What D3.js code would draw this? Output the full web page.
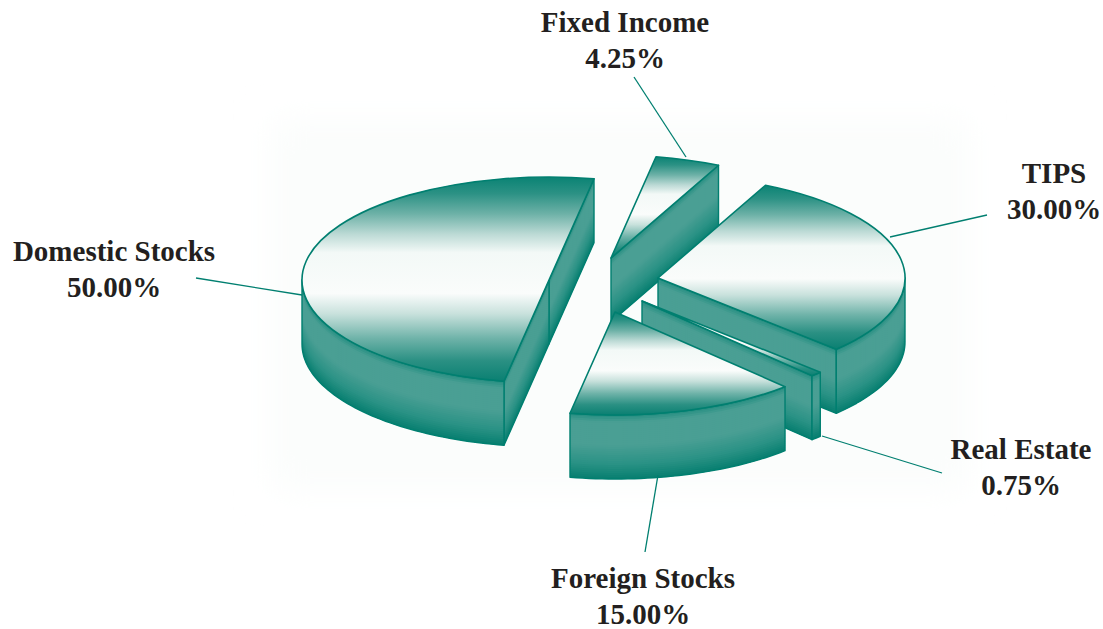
<!DOCTYPE html>
<html>
<head>
<meta charset="utf-8">
<script src="https://cdn.jsdelivr.net/npm/d3@7"></script>
<style>
  html, body { margin: 0; padding: 0; background: #fff; }
  svg { display: block; }
  text { font-family: "Liberation Serif", serif; font-weight: bold; fill: #231f20; text-anchor: middle; }
</style>
</head>
<body>
<div id="chart"></div>
<script>
const categories = ['Domestic Stocks', 'Fixed Income', 'TIPS', 'Real Estate', 'Foreign Stocks'];
const shares = [50.00, 4.25, 30.00, 0.75, 15.00];

// layout of the exploded slices and the call-outs, in page pixels
const explode = [[-54, -2], [8, -24], [55, -4], [39, 19], [12, 30]];
const labelAt = [[114, 261], [625, 32], [1054, 183], [1021, 459], [643, 588]];
const leaders = [
  [[196, 278], [302, 295]],
  [[634, 77], [686, 157]],
  [[987, 215], [890, 237]],
  [[942, 473], [822, 436]],
  [[658, 475], [645, 552]]
];
const drawOrder = [1, 2, 0, 3, 4];

const width = 1103, height = 629;
const cx = 603, cy = 282, radius = 247, tilt = 0.417, depth = 64;
const edge = '#007f70';
const rad = d => d * Math.PI / 180;

const svg = d3.select('#chart').append('svg')
    .attr('width', width)
    .attr('height', height);

const defs = svg.append('defs');
defs.append('filter').attr('id', 'wash')
    .append('feGaussianBlur').attr('stdDeviation', 18);

const topGrad = defs.append('linearGradient')
    .attr('id', 'topFace')
    .attr('x1', 0).attr('y1', 0).attr('x2', 0).attr('y2', 1);
[[0, '#0a8374'], [0.08, '#2b9184'], [0.18, '#6db1a7'], [0.28, '#bcdad5'], [0.37, '#f3f9f7'],
 [0.57, '#fafcfb'], [0.67, '#c8e1dc'], [0.79, '#6fb3a9'], [0.9, '#2a9083'], [1, '#0a8072']]
  .forEach(s => topGrad.append('stop').attr('offset', s[0]).attr('stop-color', s[1]));

const sideColor = d3.scaleLinear()
    .domain([0, 0.1, 0.45, 0.75, 1])
    .range(['#2a9184', '#4a9f94', '#4a9f94', '#2a9285', '#047d6e']);

// faint paper tone of the scan behind the pie
svg.append('rect')
    .attr('x', 270).attr('y', 120)
    .attr('width', 700).attr('height', 370)
    .attr('fill', '#fbfdfc')
    .attr('filter', 'url(#wash)');

const pie = d3.pie().sort(null)
    .startAngle(rad(190.5))
    .endAngle(rad(190.5 + 360));
const slices = pie(shares);

const arc = d3.arc().innerRadius(0).outerRadius(radius);
const outline = d3.line().curve(d3.curveLinear);

function rimPoint(i, angle) {
  return [cx + explode[i][0] + Math.sin(angle) * radius,
          cy + explode[i][1] - Math.cos(angle) * radius * tilt];
}

// extruded wall below a run of top-edge points, shaded in thin strips
function wall(g, pts) {
  const step = 2;
  const shift = (p, t) => [p[0], p[1] + t];
  d3.range(0, depth, step).forEach(t => {
    const lower = Math.min(t + step + 3, depth);
    const poly = pts.map(p => shift(p, t))
        .concat(pts.slice().reverse().map(p => shift(p, lower)));
    g.append('path')
        .attr('d', outline(poly) + 'Z')
        .attr('fill', sideColor(t / depth));
  });
  const shape = pts.concat(pts.slice().reverse().map(p => shift(p, depth)));
  g.append('path')
      .attr('d', outline(shape) + 'Z')
      .attr('fill', 'none')
      .attr('stroke', edge)
      .attr('stroke-width', 1.4)
      .attr('stroke-linejoin', 'round');
}

drawOrder.forEach(i => {
  const d = slices[i];
  const g = svg.append('g').attr('class', 'slice');
  const apex = [cx + explode[i][0], cy + explode[i][1]];

  // radial cut faces that look towards the viewer
  if (Math.sin(d.endAngle) > 0) wall(g, [apex, rimPoint(i, d.endAngle)]);
  if (Math.sin(d.startAngle) < 0) wall(g, [apex, rimPoint(i, d.startAngle)]);

  // outer rim, only the front half of the ellipse shows
  const turn = d.startAngle >= 2 * Math.PI ? 2 * Math.PI : 0;
  const lo = Math.max(d.startAngle - turn, rad(90));
  const hi = Math.min(d.endAngle - turn, rad(270));
  if (hi > lo) {
    const n = Math.max(2, Math.ceil((hi - lo) / rad(1.5)));
    wall(g, d3.range(n + 1).map(k => rimPoint(i, lo + (hi - lo) * k / n)));
  }

  g.append('path')
      .attr('transform', `translate(${apex[0]},${apex[1]}) scale(1,${tilt})`)
      .attr('d', arc(d))
      .attr('fill', 'url(#topFace)')
      .attr('stroke', edge)
      .attr('stroke-width', 1.6)
      .attr('stroke-linejoin', 'round')
      .attr('vector-effect', 'non-scaling-stroke');
});

svg.append('g').selectAll('line')
    .data(leaders)
    .join('line')
    .attr('x1', d => d[0][0]).attr('y1', d => d[0][1])
    .attr('x2', d => d[1][0]).attr('y2', d => d[1][1])
    .attr('stroke', edge)
    .attr('stroke-width', 1.3);

const labels = svg.append('g').selectAll('g')
    .data(categories)
    .join('g')
    .attr('transform', (d, i) => `translate(${labelAt[i][0]},${labelAt[i][1]})`);

labels.append('text')
    .style('font-size', '29px')
    .text(d => d);

labels.append('text')
    .attr('y', 36)
    .style('font-size', '29px')
    .text((d, i) => shares[i].toFixed(2) + '%');
</script>
</body>
</html>
